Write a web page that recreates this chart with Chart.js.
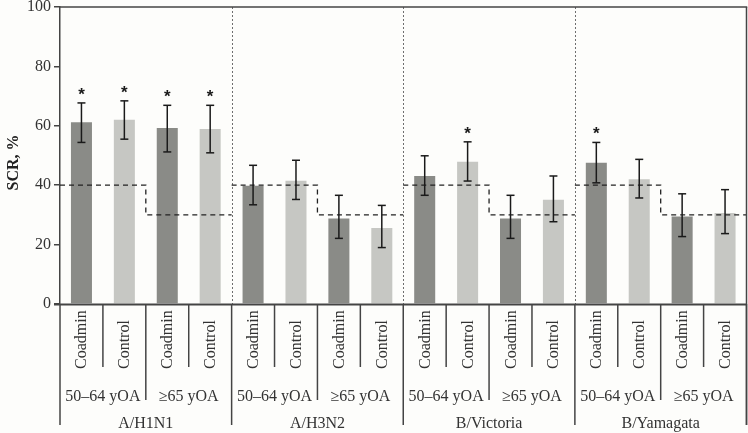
<!DOCTYPE html>
<html>
<head>
<meta charset="utf-8">
<title>SCR by strain</title>
<script src="https://cdn.jsdelivr.net/npm/chart.js@4.4.1/dist/chart.umd.min.js"></script>
<style>
  html, body { margin: 0; padding: 0; background: #fdfdfb; }
  canvas { display: block; }
</style>
</head>
<body>
<canvas id="scrChart" width="748" height="433"></canvas>
<script>
// Data. 16 bars = strain x age group x arm
const strains = ['A/H1N1', 'A/H3N2', 'B/Victoria', 'B/Yamagata'];
const ageGroups = ['50–64 yOA', '≥65 yOA'];
const arms = ['Coadmin', 'Control'];
const scr    = [61.2, 62.0, 59.3, 58.9, 39.8, 41.5, 28.8, 25.6, 43.1, 47.9, 28.8, 35.1, 47.6, 42.0, 29.5, 30.6];
const ciLow  = [54.4, 55.5, 51.2, 50.9, 33.4, 35.2, 22.1, 19.0, 36.6, 41.4, 22.1, 27.7, 40.8, 35.7, 22.7, 23.7];
const ciHigh = [67.7, 68.4, 66.9, 66.9, 46.7, 48.4, 36.6, 33.2, 49.9, 54.6, 36.6, 43.1, 54.4, 48.7, 37.1, 38.5];
const significant = [1, 1, 1, 1, 0, 0, 0, 0, 0, 1, 0, 0, 1, 0, 0, 0];
const thresholds = [40, 30]; // success criterion per age group
const yTicks = [0, 20, 40, 60, 80, 100];

const SERIF = '"Liberation Serif", "Times New Roman", serif';
const INK = '#333';
const armColors = ['#8a8b87', '#c6c7c3'];

// category labels: one per bar
const labels = [];
strains.forEach(() => ageGroups.forEach(() => arms.forEach(a => labels.push(a))));

function edgeAt(chart, i) {
  const x = chart.scales.x;
  const n = labels.length;
  if (i <= 0) return chart.chartArea.left;
  if (i >= n) return chart.chartArea.right;
  return (x.getPixelForValue(i - 1) + x.getPixelForValue(i)) / 2;
}

function line(ctx, x1, y1, x2, y2) {
  ctx.beginPath();
  ctx.moveTo(x1, y1);
  ctx.lineTo(x2, y2);
  ctx.stroke();
}

// dotted separators between strains (behind bars)
const separators = {
  id: 'separators',
  beforeDatasetsDraw(chart) {
    const ctx = chart.ctx, a = chart.chartArea;
    ctx.save();
    ctx.strokeStyle = '#6e6e6e';
    ctx.lineWidth = 1;
    ctx.setLineDash([2, 2]);
    for (let s = 1; s < strains.length; s++) {
      const x = Math.round(edgeAt(chart, s * 4)) + 0.5;
      line(ctx, x, a.top, x, a.bottom);
    }
    ctx.restore();
  }
};

// thresholds, error bars, asterisks, frame and the nested category labels
const decorations = {
  id: 'decorations',
  afterDatasetsDraw(chart) {
    const ctx = chart.ctx, a = chart.chartArea;
    const x = chart.scales.x, y = chart.scales.y;
    ctx.save();

    // dashed criterion lines
    ctx.strokeStyle = '#222';
    ctx.lineWidth = 1.3;
    ctx.setLineDash([5, 4]);
    strains.forEach((s, si) => {
      const x0 = edgeAt(chart, si * 4);
      const xm = edgeAt(chart, si * 4 + 2);
      const x1 = edgeAt(chart, si * 4 + 4);
      const yA = y.getPixelForValue(thresholds[0]);
      const yB = y.getPixelForValue(thresholds[1]);
      ctx.beginPath();
      ctx.moveTo(x0, yA);
      ctx.lineTo(xm, yA);
      ctx.lineTo(xm, yB);
      ctx.lineTo(x1, yB);
      ctx.stroke();
    });
    ctx.setLineDash([]);

    // error bars
    ctx.strokeStyle = '#1a1a1a';
    ctx.lineWidth = 1.5;
    scr.forEach((v, i) => {
      const cx = x.getPixelForValue(i);
      const yl = y.getPixelForValue(ciLow[i]);
      const yh = y.getPixelForValue(ciHigh[i]);
      line(ctx, cx, yl, cx, yh);
      line(ctx, cx - 4, yl, cx + 4, yl);
      line(ctx, cx - 4, yh, cx + 4, yh);
    });

    // significance markers
    ctx.fillStyle = '#1a1a1a';
    ctx.font = 'bold 17px "Liberation Sans", Arial, sans-serif';
    ctx.textAlign = 'center';
    ctx.textBaseline = 'alphabetic';
    scr.forEach((v, i) => {
      if (!significant[i]) return;
      ctx.fillText('*', x.getPixelForValue(i), y.getPixelForValue(ciHigh[i]) - 3);
    });

    // frame: top, right, x axis
    ctx.strokeStyle = '#444';
    ctx.lineWidth = 1.5;
    line(ctx, a.left, a.top, a.right + 0.75, a.top);
    line(ctx, a.right, a.top, a.right, 425);
    ctx.lineWidth = 2;
    line(ctx, a.left - 6, a.bottom + 0.5, a.right, a.bottom + 0.5);

    // tree lines below the axis
    ctx.lineWidth = 1.5;
    for (let i = 0; i <= labels.length; i++) {
      const xe = edgeAt(chart, i);
      const yEnd = i % 4 === 0 ? 425 : (i % 2 === 0 ? 400 : 367);
      line(ctx, xe, a.bottom, xe, yEnd);
    }

    // arm labels, vertical
    ctx.fillStyle = INK;
    ctx.font = '16px ' + SERIF;
    labels.forEach((lab, i) => {
      ctx.save();
      ctx.translate(x.getPixelForValue(i) + 5, 369);
      ctx.rotate(-Math.PI / 2);
      ctx.textAlign = 'left';
      ctx.fillText(lab, 0, 0);
      ctx.restore();
    });

    // age groups and strains
    ctx.textAlign = 'center';
    strains.forEach((s, si) => {
      ageGroups.forEach((g, gi) => {
        const k = si * 4 + gi * 2;
        ctx.fillText(g, (edgeAt(chart, k) + edgeAt(chart, k + 2)) / 2, 401);
      });
      ctx.fillText(s, (edgeAt(chart, si * 4) + edgeAt(chart, si * 4 + 4)) / 2, 428);
    });

    // y axis title
    ctx.save();
    ctx.translate(18, (a.top + a.bottom) / 2 + 7);
    ctx.rotate(-Math.PI / 2);
    ctx.font = 'bold 16px ' + SERIF;
    ctx.fillStyle = '#222';
    ctx.fillText('SCR, %', 0, 0);
    ctx.restore();

    ctx.restore();
  }
};

new Chart(document.getElementById('scrChart'), {
  type: 'bar',
  data: {
    labels: labels,
    datasets: [{
      label: 'SCR',
      data: scr,
      backgroundColor: labels.map((l, i) => armColors[i % 2]),
      borderWidth: 0,
      barPercentage: 0.49,
      categoryPercentage: 1
    }]
  },
  options: {
    responsive: false,
    animation: false,
    layout: { padding: { top: 7, right: 1.5, bottom: 129, left: 0 } },
    plugins: {
      legend: { display: false },
      tooltip: { enabled: false }
    },
    scales: {
      x: { display: false },
      y: {
        min: 0,
        max: 100,
        afterFit: s => { s.width = 60; s.paddingTop = 0; s.paddingBottom = 0; },
        afterBuildTicks: s => { s.ticks = yTicks.map(v => ({ value: v })); },
        grid: { drawOnChartArea: false, tickLength: 6, color: '#444', lineWidth: 1.5 },
        border: { color: '#444', width: 1.5 },
        ticks: {
          padding: 3,
          color: INK,
          font: { family: SERIF, size: 16 }
        }
      }
    }
  },
  plugins: [separators, decorations]
});
</script>
</body>
</html>
